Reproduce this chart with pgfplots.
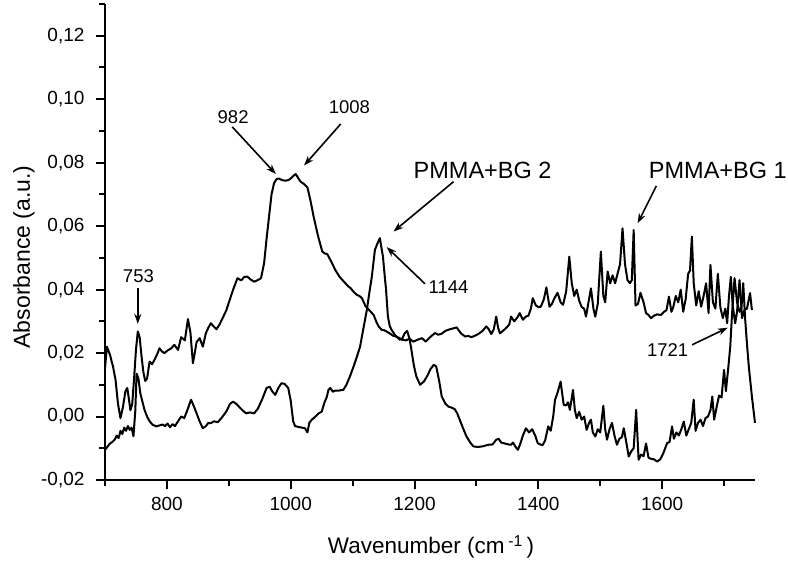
\documentclass[border=0pt]{standalone}
\usepackage{pgfplots}
\pgfplotsset{compat=1.18}
\usepackage{fontspec}
\setmainfont{Liberation Sans}
\usetikzlibrary{arrows.meta}
\begin{document}
\begin{tikzpicture}
\begin{axis}[
  width=650pt, height=476pt, scale only axis,
  xmin=700, xmax=1750, ymin=-0.02, ymax=0.13,
  axis x line*=bottom, axis y line*=left,
  axis line style={line width=2pt},
  xtick={800,1000,1200,1400,1600},
  xticklabels={800,1000,1200,1400,1600},
  minor xtick={700,900,1100,1300,1500,1700},
  ytick={-0.02,0,0.02,0.04,0.06,0.08,0.10,0.12},
  minor ytick={-0.01,0.01,0.03,0.05,0.07,0.09,0.11,0.13},
  yticklabel={\pgfmathprintnumber[fixed,fixed zerofill,precision=2,use comma]{\tick}},
  /pgf/number format/assume math mode=true,
  tick align=outside, major tick length=9pt, minor tick length=5.5pt,
  every tick/.style={line width=2pt, black},
  ticklabel style={font=\fontsize{19}{21}\selectfont},
  yticklabel style={xshift=-8pt},
  xticklabel style={yshift=-5pt},
  clip=false,
]
\coordinate (SW) at (rel axis cs:0,0);
\addplot[black, line width=2pt, line join=round] coordinates {
(700,0.0150) (703,0.0220) (708,0.0195) (713,0.0157) (717,0.0116) (721,0.0040) (725,-0.0005) (729,0.0030) (733,0.0080) (736,0.0090) (739,0.0050) (741,0.0020) (744,0.0040) (747,0.0120) (750,0.0210) (753,0.0268) (756,0.0250) (759,0.0190) (762,0.0140) (765,0.0112) (768,0.0120) (772,0.0173) (776,0.0165) (780,0.0179) (784,0.0195) (788,0.0215) (792,0.0205) (796,0.0200) (801,0.0208) (807,0.0215) (812,0.0226) (818,0.0210) (823,0.0250) (829,0.0240) (834,0.0307) (838,0.0265) (842,0.0168) (845,0.0200) (848,0.0235) (853,0.0247) (858,0.0220) (863,0.0263) (867,0.0280) (871,0.0294) (875,0.0285) (880,0.0275) (885,0.0290) (890,0.0310) (896,0.0335) (901,0.0365) (907,0.0400) (914,0.0436) (920,0.0429) (925,0.0440) (930,0.0441) (935,0.0432) (941,0.0425) (947,0.0430) (952,0.0436) (957,0.0483) (961,0.0560) (965,0.0630) (969,0.0700) (973,0.0735) (977,0.0748) (981,0.0750) (986,0.0745) (992,0.0743) (997,0.0746) (1000,0.0750) (1004,0.0758) (1008,0.0764) (1012,0.0752) (1016,0.0740) (1022,0.0732) (1027,0.0722) (1032,0.0680) (1037,0.0630) (1044,0.0570) (1051,0.0520) (1055,0.0514) (1059,0.0512) (1065,0.0490) (1072,0.0462) (1079,0.0440) (1086,0.0425) (1092,0.0412) (1097,0.0404) (1102,0.0392) (1107,0.0383) (1111,0.0380) (1115,0.0373) (1118,0.0360) (1121,0.0347) (1127,0.0335) (1134,0.0320) (1138,0.0300) (1142,0.0284) (1147,0.0273) (1151,0.0272) (1155,0.0268) (1160,0.0262) (1165,0.0255) (1170,0.0252) (1175,0.0248) (1180,0.0242) (1186,0.0240) (1192,0.0245) (1198,0.0236) (1205,0.0242) (1212,0.0247) (1218,0.0236) (1225,0.0250) (1233,0.0263) (1238,0.0258) (1243,0.0260) (1250,0.0270) (1257,0.0275) (1263,0.0278) (1268,0.0281) (1275,0.0262) (1282,0.0252) (1287,0.0254) (1292,0.0250) (1298,0.0255) (1303,0.0260) (1310,0.0270) (1316,0.0284) (1320,0.0275) (1324,0.0260) (1328,0.0275) (1332,0.0315) (1335,0.0280) (1338,0.0262) (1344,0.0272) (1349,0.0281) (1353,0.0290) (1356,0.0315) (1361,0.0300) (1366,0.0312) (1370,0.0326) (1375,0.0305) (1380,0.0315) (1384,0.0318) (1388,0.0340) (1391,0.0373) (1396,0.0350) (1400,0.0345) (1404,0.0346) (1409,0.0370) (1413,0.0407) (1418,0.0346) (1422,0.0355) (1426,0.0373) (1431,0.0390) (1436,0.0360) (1440,0.0352) (1445,0.0395) (1450,0.0504) (1454,0.0420) (1458,0.0380) (1462,0.0400) (1466,0.0365) (1470,0.0345) (1474,0.0340) (1477,0.0315) (1481,0.0360) (1485,0.0404) (1489,0.0340) (1492,0.0315) (1496,0.0355) (1501,0.0520) (1505,0.0380) (1508,0.0360) (1512,0.0457) (1516,0.0420) (1520,0.0445) (1524,0.0420) (1528,0.0450) (1532,0.0480) (1536,0.0593) (1540,0.0480) (1544,0.0430) (1548,0.0420) (1551,0.0430) (1554,0.0588) (1557,0.0350) (1561,0.0355) (1565,0.0390) (1570,0.0360) (1574,0.0326) (1578,0.0320) (1582,0.0310) (1587,0.0318) (1592,0.0322) (1598,0.0320) (1603,0.0330) (1607,0.0335) (1611,0.0378) (1615,0.0330) (1618,0.0345) (1622,0.0380) (1626,0.0360) (1630,0.0400) (1634,0.0330) (1638,0.0370) (1642,0.0450) (1645,0.0460) (1648,0.0567) (1651,0.0420) (1655,0.0350) (1659,0.0395) (1663,0.0346) (1667,0.0380) (1671,0.0420) (1675,0.0326) (1678,0.0478) (1682,0.0360) (1686,0.0340) (1690,0.0450) (1694,0.0345) (1698,0.0310) (1702,0.0340) (1705,0.0294) (1708,0.0380) (1711,0.0440) (1714,0.0350) (1718,0.0294) (1721,0.0330) (1725,0.0430) (1729,0.0310) (1733,0.0336) (1737,0.0340) (1742,0.0389) (1745,0.0336)
};
\addplot[black, line width=2pt, line join=round] coordinates {
(700,-0.0105) (704,-0.0095) (708,-0.0085) (712,-0.0080) (716,-0.0072) (719,-0.0060) (722,-0.0068) (725,-0.0045) (728,-0.0055) (731,-0.0035) (734,-0.0045) (737,-0.0030) (740,-0.0042) (743,-0.0035) (746,-0.0062) (749,0.0020) (751,0.0135) (754,0.0120) (757,0.0074) (760,0.0050) (764,0.0020) (768,0.0000) (772,-0.0015) (777,-0.0026) (783,-0.0031) (788,-0.0028) (793,-0.0025) (797,-0.0030) (801,-0.0022) (805,-0.0034) (809,-0.0024) (813,-0.0030) (817,-0.0018) (823,0.0000) (828,-0.0005) (833,0.0020) (839,0.0053) (843,0.0035) (848,0.0010) (853,-0.0016) (858,-0.0037) (863,-0.0030) (867,-0.0020) (871,-0.0021) (876,-0.0015) (882,-0.0018) (888,-0.0005) (896,0.0016) (902,0.0040) (907,0.0047) (912,0.0040) (918,0.0028) (923,0.0018) (928,0.0010) (934,0.0013) (941,0.0010) (947,0.0025) (954,0.0055) (961,0.0090) (966,0.0094) (970,0.0080) (975,0.0068) (980,0.0090) (985,0.0105) (990,0.0103) (996,0.0090) (1000,0.0050) (1004,-0.0015) (1007,-0.0030) (1013,-0.0033) (1018,-0.0035) (1023,-0.0037) (1027,-0.0050) (1030,-0.0020) (1034,-0.0010) (1040,0.0000) (1045,0.0010) (1050,0.0015) (1055,0.0047) (1058,0.0060) (1061,0.0084) (1064,0.0090) (1068,0.0078) (1072,0.0082) (1078,0.0082) (1085,0.0084) (1090,0.0100) (1096,0.0128) (1102,0.0160) (1107,0.0189) (1112,0.0220) (1117,0.0273) (1123,0.0336) (1127,0.0390) (1131,0.0440) (1136,0.0525) (1140,0.0545) (1144,0.0562) (1149,0.0504) (1152,0.0440) (1154,0.0400) (1157,0.0315) (1160,0.0285) (1163,0.0273) (1168,0.0258) (1172,0.0250) (1176,0.0242) (1180,0.0245) (1184,0.0262) (1188,0.0270) (1192,0.0245) (1195,0.0210) (1199,0.0160) (1203,0.0126) (1209,0.0100) (1215,0.0110) (1220,0.0126) (1226,0.0150) (1231,0.0163) (1235,0.0158) (1240,0.0110) (1244,0.0063) (1250,0.0040) (1255,0.0031) (1260,0.0028) (1265,0.0023) (1269,0.0010) (1273,-0.0010) (1278,-0.0035) (1284,-0.0063) (1290,-0.0082) (1295,-0.0094) (1302,-0.0096) (1310,-0.0094) (1319,-0.0089) (1326,-0.0088) (1332,-0.0073) (1336,-0.0070) (1340,-0.0082) (1346,-0.0085) (1352,-0.0088) (1356,-0.0089) (1359,-0.0082) (1363,-0.0095) (1367,-0.0105) (1371,-0.0085) (1375,-0.0060) (1380,-0.0037) (1385,-0.0050) (1390,-0.0040) (1395,-0.0060) (1399,-0.0084) (1403,-0.0088) (1407,-0.0090) (1411,-0.0075) (1416,-0.0031) (1420,-0.0045) (1424,0.0000) (1427,0.0053) (1431,0.0075) (1436,0.0110) (1441,0.0037) (1445,0.0035) (1448,0.0045) (1451,0.0021) (1456,0.0084) (1459,0.0020) (1462,-0.0005) (1466,0.0015) (1470,-0.0010) (1474,0.0000) (1478,-0.0042) (1482,-0.0020) (1485,-0.0010) (1488,-0.0050) (1492,-0.0063) (1496,-0.0040) (1500,-0.0050) (1505,0.0034) (1508,-0.0040) (1511,-0.0073) (1515,-0.0040) (1519,-0.0020) (1523,-0.0060) (1527,-0.0089) (1531,-0.0070) (1535,-0.0065) (1538,-0.0037) (1542,-0.0080) (1546,-0.0126) (1550,-0.0110) (1554,-0.0100) (1558,0.0021) (1562,-0.0136) (1566,-0.0120) (1570,-0.0125) (1574,-0.0085) (1578,-0.0130) (1582,-0.0133) (1587,-0.0135) (1592,-0.0142) (1597,-0.0135) (1602,-0.0115) (1608,-0.0084) (1612,-0.0080) (1616,-0.0031) (1619,-0.0070) (1623,-0.0050) (1627,-0.0060) (1631,-0.0040) (1635,-0.0016) (1639,-0.0060) (1643,-0.0040) (1647,-0.0020) (1651,0.0053) (1654,-0.0045) (1658,-0.0020) (1662,-0.0010) (1666,-0.0030) (1670,-0.0005) (1674,0.0000) (1678,0.0020) (1681,0.0063) (1684,-0.0010) (1688,0.0030) (1692,0.0066) (1696,0.0060) (1700,0.0147) (1703,0.0080) (1707,0.0157) (1710,0.0220) (1713,0.0326) (1717,0.0436) (1721,0.0360) (1725,0.0330) (1728,0.0340) (1731,0.0420) (1734,0.0310) (1737,0.0230) (1740,0.0157) (1745,0.0063) (1750,-0.0020)
};
% annotations
\tikzset{ann/.style={font=\fontsize{18.5}{20}\selectfont, inner sep=0pt},
         big/.style={font=\fontsize{23.5}{26}\selectfont, inner sep=0pt},
         arr/.style={line width=1.6pt, -{Stealth[length=10pt,width=7pt]}}}
\node[ann] at (axis cs:754,0.0441) {753};
\draw[arr] (axis cs:753,0.0405) -- (axis cs:753,0.0292);
\node[ann] at (axis cs:907,0.0945) {982};
\draw[arr] (axis cs:905.5,0.0913) -- (axis cs:976,0.0764);
\node[ann] at (axis cs:1094.7,0.0976) {1008};
\draw[arr] (axis cs:1080.8,0.0922) -- (axis cs:1021.5,0.0791);
\node[big] at (axis cs:1310,0.0777) {PMMA+BG 2};
\draw[arr] (axis cs:1263,0.0740) -- (axis cs:1166,0.0583);
\node[ann] at (axis cs:1255,0.0409) {1144};
\draw[arr] (axis cs:1217,0.0418) -- (axis cs:1155,0.0534);
\node[big] at (axis cs:1690,0.0777) {PMMA+BG 1};
\draw[arr] (axis cs:1590.7,0.0727) -- (axis cs:1560.4,0.0609);
\node[ann] at (axis cs:1609,0.0210) {1721};
\draw[arr] (axis cs:1648.4,0.0226) -- (axis cs:1706,0.0280);
\end{axis}
\path (SW) ++(326pt,-67pt) node[font=\fontsize{22.5}{24}\selectfont]{Wavenumber (cm\,\textsuperscript{-1}\,)};
\path (SW) ++(-81pt,223pt) node[rotate=90, font=\fontsize{23}{25}\selectfont]{Absorbance (a.u.)};
\pgfresetboundingbox
\useasboundingbox (SW) ++(-105pt,-83pt) rectangle ++(788pt,563pt);
\end{tikzpicture}
\end{document}
